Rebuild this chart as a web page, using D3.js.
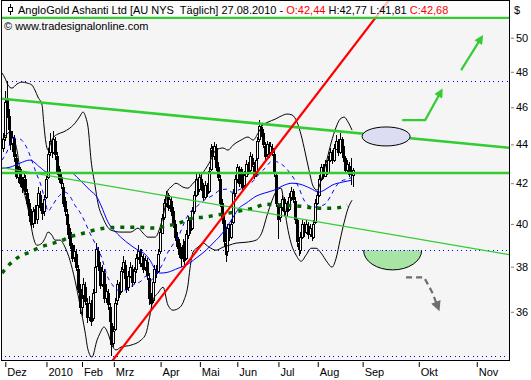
<!DOCTYPE html>
<html>
<head>
<meta charset="utf-8">
<script src="https://cdn.jsdelivr.net/npm/d3@7"></script>
<style>
  body { margin: 0; background: #fff; }
  svg { display: block; }
  text { font-family: "Liberation Sans", Arial, sans-serif; font-size: 11px; }
</style>
</head>
<body>
<svg id="chart" width="531" height="380"></svg>
<script>
// daily candles, 30.11.2009 .. 27.08.2010 (index = trading day)
const open = [43.8,44.4,46.4,45.5,44.7,44.1,44.3,43.3,42.3,42.7,
  42.1,41.7,42.2,41.5,41.0,40.5,40.0,40.7,40.2,40.9,
  41.4,40.8,40.6,41.3,42.3,43.6,44.1,43.6,44.2,43.4,
  42.7,42.3,41.8,41.1,40.5,40.0,39.6,39.0,38.4,38.6,
  37.9,37.0,36.2,36.7,37.1,36.4,35.8,36.3,35.7,36.9,
  38.0,38.7,38.0,37.2,37.7,36.6,36.8,36.2,35.5,34.7,
  35.3,36.5,37.1,36.9,37.9,38.1,37.4,37.1,37.6,37.9,
  37.3,37.9,38.4,38.6,38.2,38.4,38.0,38.2,37.5,36.6,
  36.5,37.3,37.9,37.8,38.7,39.6,40.3,41.0,41.3,40.9,
  41.1,40.6,40.0,39.4,39.1,38.6,38.4,39.0,38.4,39.5,
  40.1,39.8,40.6,41.4,42.1,41.7,42.2,41.8,41.3,41.8,
  41.6,42.7,43.7,43.4,43.8,42.8,42.2,41.0,40.2,39.1,
  38.7,39.8,39.4,40.1,41.5,42.2,42.7,42.1,42.5,41.9,
  42.4,42.9,42.7,43.3,42.9,42.5,43.3,44.3,44.9,44.6,
  43.9,43.5,43.9,43.6,43.8,43.5,42.4,40.9,40.3,40.8,
  41.1,40.6,41.0,40.7,41.3,41.6,41.1,40.2,39.1,38.8,
  39.4,40.0,39.6,39.9,39.5,39.8,39.4,40.1,41.0,41.4,
  42.2,42.8,42.4,43.0,42.6,43.2,43.6,43.2,43.8,44.2,
  43.6,44.3,43.9,43.3,42.7,42.9,42.5,42.44];
const high = [44.6,46.9,47.47,45.9,45.0,44.7,44.5,43.5,42.9,42.8,
  42.3,42.6,42.4,41.7,41.2,40.7,40.8,40.9,41.1,41.8,
  41.6,41.0,41.4,42.4,43.8,44.6,44.3,44.7,44.4,43.6,
  42.9,42.5,42.0,41.3,40.7,40.2,39.8,39.1,39.0,38.8,
  38.1,37.2,36.9,37.5,37.3,36.6,36.7,36.5,37.0,38.3,
  39.1,38.9,38.2,38.1,37.9,37.2,37.0,36.4,35.7,35.4,
  36.6,37.4,37.3,38.0,38.5,38.3,37.6,37.8,38.2,38.1,
  38.0,38.6,39.0,38.8,38.8,38.6,38.5,38.4,37.7,36.8,
  37.5,38.1,38.1,38.8,39.8,40.5,41.2,41.6,41.5,41.4,
  41.3,40.8,40.2,39.6,39.3,38.9,39.3,39.2,39.7,40.4,
  40.3,40.8,41.6,42.5,42.3,42.5,42.4,42.0,42.1,42.0,
  42.8,44.0,43.9,44.1,44.0,43.1,42.4,41.2,40.4,39.4,
  40.0,40.0,40.2,41.7,42.4,43.0,42.9,42.8,42.7,42.6,
  43.2,43.1,43.6,43.5,43.1,43.4,44.4,45.3,45.1,44.8,
  44.1,44.2,44.1,44.1,44.0,43.7,42.5,41.0,41.0,41.4,
  41.3,41.2,41.1,41.5,41.8,41.7,41.3,40.3,39.3,39.6,
  40.2,40.1,40.2,40.1,40.0,39.9,40.2,41.2,41.6,42.4,
  43.0,43.0,43.2,43.1,43.4,43.8,43.7,44.0,44.5,44.3,
  44.6,44.4,44.0,43.4,43.2,43.1,43.3,42.77];
const low = [43.6,44.2,45.4,44.5,43.7,43.6,43.1,42.2,42.0,41.8,
  41.5,41.6,41.4,40.8,40.1,39.8,39.8,40.0,40.0,40.7,
  40.6,40.2,40.4,41.2,42.2,43.4,43.3,43.5,43.2,42.4,
  42.0,41.7,40.8,40.4,39.8,39.3,38.8,38.2,38.2,37.8,
  36.8,35.9,35.8,36.5,36.3,35.5,35.6,35.4,35.6,36.8,
  37.8,37.8,37.0,37.1,36.4,36.4,36.1,35.4,34.13,34.5,
  35.2,36.3,36.6,36.8,37.7,37.3,36.8,36.9,37.5,37.1,
  37.2,37.7,38.3,38.0,38.0,37.7,37.8,37.4,36.3,36.1,
  36.4,37.2,37.5,37.7,38.6,39.5,40.2,40.8,40.6,40.7,
  40.4,39.8,39.2,38.8,38.4,38.0,38.2,38.1,38.3,39.3,
  39.5,39.7,40.5,41.3,41.4,41.6,41.6,41.1,41.2,41.3,
  41.5,42.6,43.1,43.2,42.6,42.1,40.8,40.0,38.9,38.2,
  38.5,39.2,39.3,40.0,41.3,42.0,41.8,41.9,41.6,41.7,
  42.3,42.4,42.5,42.8,42.2,42.3,43.2,44.1,44.4,43.8,
  43.2,43.3,43.3,43.4,43.4,42.3,40.8,39.3,40.1,40.6,
  40.4,40.5,40.4,40.6,41.1,41.0,40.0,38.9,38.5,38.6,
  39.3,39.4,39.5,39.3,39.4,39.2,39.3,40.0,40.9,41.3,
  42.1,42.2,42.3,42.4,42.5,43.1,43.0,43.1,43.7,43.4,
  43.5,43.7,43.1,42.5,42.5,42.3,41.9,41.81];
const close = [44.3,46.3,45.6,44.8,44.0,44.4,43.4,42.4,42.6,42.0,
  41.8,42.3,41.6,41.0,40.4,40.0,40.6,40.2,40.9,41.5,
  40.8,40.5,41.2,42.2,43.5,44.2,43.6,44.3,43.5,42.6,
  42.2,42.0,41.0,40.6,40.0,39.5,39.0,38.4,38.7,38.0,
  37.0,36.2,36.6,37.2,36.5,35.8,36.4,35.6,36.8,38.0,
  38.8,38.0,37.2,37.8,36.6,36.9,36.3,35.6,34.6,35.2,
  36.4,37.2,36.8,37.8,38.2,37.5,37.0,37.6,38.0,37.3,
  37.8,38.4,38.7,38.2,38.5,37.9,38.3,37.6,36.6,36.4,
  37.3,37.9,37.7,38.6,39.6,40.3,41.0,41.4,40.8,41.2,
  40.6,40.0,39.4,39.0,38.6,38.4,39.0,38.3,39.5,40.2,
  39.7,40.6,41.4,42.2,41.6,42.3,41.8,41.3,41.9,41.5,
  42.6,43.8,43.4,43.9,42.8,42.3,41.0,40.2,39.2,38.6,
  39.8,39.4,40.0,41.5,42.2,42.8,42.0,42.6,41.8,42.4,
  43.0,42.6,43.4,43.0,42.4,43.2,44.2,45.0,44.6,44.0,
  43.4,44.0,43.5,43.9,43.6,42.6,41.0,40.2,40.8,41.2,
  40.6,41.0,40.6,41.3,41.6,41.2,40.2,39.2,38.8,39.4,
  40.0,39.6,40.0,39.5,39.8,39.4,40.0,41.0,41.4,42.2,
  42.8,42.4,43.0,42.6,43.2,43.6,43.2,43.8,44.2,43.6,
  44.3,43.9,43.3,42.7,43.0,42.5,42.6,42.68];

// x axis: month starts as day index (future part runs in calendar days)
const monthTicks = [1, 23, 42, 59, 84, 105, 125, 147, 168, 192, 222, 253];
const monthLabels = ["Dez", "2010", "Feb", "Mrz", "Apr", "Mai", "Jun", "Jul", "Aug", "Sep", "Okt", "Nov"];
const priceTicks = [36, 38, 40, 42, 44, 46, 48, 50];

// indicators: [day index, price]
const upperBand = [[-0.5,47.93],[1.1,47.64],[2.7,47.24],[4.8,47.07],[7.5,47.30],[10.2,47.41],[12.8,47.36],
  [15.5,47.24],[17.1,46.96],[18.7,46.57],[20.9,46.12],[21.9,45.03],[23.0,44.07],[24.1,43.70],[25.1,43.96],
  [26.7,44.33],[29.4,44.55],[32.1,44.65],[35.8,44.87],[39.0,45.19],[41.2,45.52],[42.8,45.74],[44.4,45.41],
  [45.5,44.92],[47.1,43.18],[49.2,41.90],[50.8,41.00],[53.5,40.28],[57.8,39.70],[63.1,39.61],[68.4,39.61],
  [72.2,39.80],[74.9,39.56],[77.5,39.37],[81.3,39.37],[84.0,39.84],[86.6,40.81],[88.2,41.65],[89.8,41.80],
  [92.5,42.00],[96.3,41.80],[98.9,41.75],[101.6,42.00],[105.9,42.40],[110.2,43.02],[113.9,43.70],[117.6,43.81],
  [120.3,43.70],[123.0,43.96],[127.3,44.23],[131.0,44.39],[133.7,44.23],[136.4,44.60],[138.5,44.98],[141.7,45.19],
  [145.5,45.35],[148.7,45.52],[151.9,45.63],[154.5,45.58],[157.2,45.19],[159.4,44.49],[161.5,43.60],[163.6,42.66],
  [165.8,41.85],[167.9,41.65],[170.1,42.15],[172.7,43.02],[175.4,44.07],[178.1,44.92],[180.2,45.35],[182.4,45.46],
  [184.5,45.19],[186.6,44.76]];
const lowerBand = [[-0.5,44.23],[1.6,44.49],[3.7,44.65],[5.3,44.39],[7.5,43.70],[9.1,42.66],[10.7,41.80],
  [12.8,41.00],[14.4,40.28],[16.0,39.46],[18.2,38.99],[20.9,39.09],[22.5,39.32],[24.1,39.61],[26.2,39.46],
  [27.8,39.23],[30.5,39.23],[33.2,38.90],[35.8,38.30],[38.5,37.39],[41.2,36.29],[43.9,35.14],[45.5,34.39],
  [47.6,34.10],[50.3,34.80],[51.9,35.09],[54.0,35.35],[56.1,35.09],[58.3,34.59],[60.4,34.39],[63.1,34.51],
  [68.4,34.59],[73.8,34.80],[76.5,35.09],[78.6,35.86],[80.2,36.51],[82.9,36.82],[85.6,37.08],[88.2,36.29],
  [90.9,36.07],[94.7,36.20],[96.8,36.51],[98.9,37.17],[100.0,37.93],[101.6,38.67],[104.3,38.90],[107.0,39.09],
  [110.2,38.90],[113.9,38.76],[117.6,38.90],[120.9,38.99],[124.6,39.09],[129.9,39.13],[135.3,39.23],[138.5,39.61],
  [141.2,40.42],[143.9,41.15],[146.5,41.65],[148.7,41.75],[150.3,40.90],[151.9,39.94],[154.0,39.09],[156.7,38.53],
  [159.4,38.25],[162.0,38.53],[164.7,38.85],[167.4,38.85],[170.1,38.62],[173.3,38.21],[175.9,37.98],[178.1,38.39],
  [180.2,39.23],[182.4,40.08],[184.5,40.76],[186.6,41.15]];
const avgSlow = [[-0.5,42.76],[3.7,42.81],[9.1,43.02],[14.4,43.18],[19.8,42.81],[23.5,42.56],[30.5,42.51],
  [36.9,42.51],[39.6,42.30],[42.8,42.00],[46.5,41.65],[50.3,41.30],[52.4,40.90],[56.1,40.10],[61.5,39.50],
  [66.8,39.09],[72.2,38.76],[75.9,38.58],[78.6,38.30],[81.3,37.89],[84.0,37.71],[88.2,37.75],[93.6,37.93],
  [97.9,38.07],[103.2,38.39],[108.6,38.76],[112.3,39.09],[115.5,39.37],[119.3,39.80],[123.0,40.32],[126.2,40.76],
  [129.9,41.00],[135.3,41.35],[139.6,41.50],[144.9,41.65],[150.3,41.90],[154.5,42.00],[158.8,41.95],[164.2,41.75],
  [169.0,41.55],[171.7,41.65],[175.9,41.90],[181.3,42.05],[186.6,42.15]];
const avgFast = [[-0.5,43.18],[2.1,43.60],[5.3,44.33],[9.1,44.28],[12.3,43.91],[15.0,43.28],[17.6,42.56],
  [20.3,41.90],[22.5,41.15],[24.1,40.61],[26.2,40.86],[29.4,41.30],[33.2,41.55],[35.8,41.35],[38.5,40.90],
  [41.2,40.56],[43.9,40.08],[46.5,39.56],[49.2,39.09],[52.9,38.39],[55.6,37.61],[58.3,37.21],[61.5,36.95],
  [65.2,36.95],[69.5,37.17],[73.8,37.35],[76.5,37.57],[79.1,37.39],[81.8,37.66],[85.0,38.07],[88.2,38.67],
  [91.4,39.09],[94.1,39.46],[96.8,40.03],[99.5,40.51],[103.2,40.81],[107.5,41.15],[112.3,41.40],[116.0,41.65],
  [119.3,41.70],[122.5,41.55],[125.7,41.65],[129.9,41.85],[133.7,42.10],[136.9,42.46],[140.1,42.76],[143.9,43.13],
  [147.1,43.07],[150.3,42.86],[153.5,42.51],[156.1,42.15],[158.3,41.75],[160.4,41.25],[163.1,40.90],[166.3,40.81],
  [169.5,40.86],[172.7,41.00],[175.4,41.40],[178.1,41.85],[180.7,42.10],[184.0,42.20],[186.6,42.30]];
const avgLong = [[-0.5,37.71],[3.7,38.12],[9.1,38.48],[14.4,38.67],[19.8,38.90],[25.1,39.04],[30.5,39.18],
  [36.9,39.42],[41.2,39.51],[46.5,39.65],[54.5,39.80],[62.6,39.84],[73.3,39.84],[81.3,39.80],[86.6,39.89],
  [92.5,39.99],[101.6,40.28],[107.0,40.32],[113.9,40.42],[123.0,40.56],[128.3,40.66],[133.7,40.76],[140.6,40.95],
  [150.3,40.90],[158.8,40.86],[167.9,40.76],[176.5,40.76],[184.0,40.90]];

// drawn lines: two points each [day index, price]
const greenResistance = [[-0.5, 46.47], [270.5, 43.82]];
const greenSupport = [[-0.5, 42.79], [270.5, 38.55]];
const redTrend = [[58.8, 33.98], [181.8, 48.68]];
const greenLevel = 42.52;
const topLevel = 51.2;
const dottedLevels = [[4.8, 47.47], [-0.5, 38.75], [1, 34.13]];

const svg = d3.select("#chart");
const plot = { left: 2, top: 1, right: 509, bottom: 360 };

const x = d3.scaleLinear().domain([-0.5, 270.5]).range([plot.left, plot.right]);
const y = d3.scaleLog().domain([33.98, 52.25]).range([plot.bottom, plot.top]);

svg.append("rect").attr("width", 531).attr("height", 380).attr("fill", "#fff");
svg.append("rect")
  .attr("x", plot.left).attr("y", plot.top)
  .attr("width", plot.right - plot.left).attr("height", plot.bottom - plot.top)
  .attr("fill", "#f5f5f5");

const defs = svg.append("defs");
defs.append("clipPath").attr("id", "clip").append("rect")
  .attr("x", plot.left).attr("y", plot.top)
  .attr("width", plot.right - plot.left).attr("height", plot.bottom - plot.top);

// arrow heads
function marker(id, color, w, h) {
  defs.append("marker").attr("id", id)
    .attr("viewBox", "0 0 10 10").attr("refX", 2).attr("refY", 5)
    .attr("markerUnits", "userSpaceOnUse")
    .attr("markerWidth", w).attr("markerHeight", h)
    .attr("orient", "auto")
    .append("path").attr("d", "M0,0 L10,5 L0,10 Z").attr("fill", color);
}
marker("headGreen", "#33cc33", 10, 9);
marker("headGray", "#6e6e6e", 11, 10);

const g = svg.append("g").attr("clip-path", "url(#clip)");

// blue dotted levels
function dotted(x1, x2, v) {
  g.append("line")
    .attr("x1", x1).attr("x2", x2)
    .attr("y1", Math.round(y(v)) + 0.5).attr("y2", Math.round(y(v)) + 0.5)
    .attr("stroke", "#0000ff").attr("stroke-width", 1)
    .attr("stroke-dasharray", "1,3.5").attr("shape-rendering", "crispEdges");
}
dottedLevels.forEach(d => dotted(x(d[0]), plot.right, d[1]));

// candles
const bars = d3.range(close.length).map(i => ({ i: i, o: open[i], h: high[i], l: low[i], c: close[i] }));
const candle = g.append("g").attr("shape-rendering", "crispEdges")
  .selectAll("g").data(bars).enter().append("g");
candle.append("line")
  .attr("x1", d => Math.round(x(d.i)) + 0.5).attr("x2", d => Math.round(x(d.i)) + 0.5)
  .attr("y1", d => Math.round(y(d.h))).attr("y2", d => Math.round(y(d.l)))
  .attr("stroke", "#000").attr("stroke-width", 1);
candle.append("rect")
  .attr("x", d => Math.round(x(d.i)) - 0.5)
  .attr("width", 2)
  .attr("y", d => Math.round(y(Math.max(d.o, d.c))) + 0.5)
  .attr("height", d => Math.max(1, Math.round(Math.abs(y(d.o) - y(d.c)))))
  .attr("fill", d => d.c >= d.o ? "#fff" : "#000")
  .attr("stroke", "#000").attr("stroke-width", 1);

// indicators
const lineGen = d3.line().x(d => x(d[0])).y(d => y(d[1])).curve(d3.curveMonotoneX);
g.append("path").attr("d", lineGen(upperBand)).attr("fill", "none").attr("stroke", "#000").attr("stroke-width", 1);
g.append("path").attr("d", lineGen(lowerBand)).attr("fill", "none").attr("stroke", "#000").attr("stroke-width", 1);
g.append("path").attr("d", lineGen(avgSlow)).attr("fill", "none").attr("stroke", "#0000ff").attr("stroke-width", 1);
g.append("path").attr("d", lineGen(avgFast)).attr("fill", "none").attr("stroke", "#0000ff").attr("stroke-width", 1)
  .attr("stroke-dasharray", "4,4");
g.append("path").attr("d", lineGen(avgLong)).attr("fill", "none").attr("stroke", "#006400").attr("stroke-width", 3.5)
  .attr("stroke-dasharray", "4,6");

// trend lines, extended to the plot edges
function extended(pts) {
  const x1 = x(pts[0][0]), y1 = y(pts[0][1]), x2 = x(pts[1][0]), y2 = y(pts[1][1]);
  const s = (y2 - y1) / (x2 - x1);
  return [[plot.left, y1 + s * (plot.left - x1)], [plot.right, y1 + s * (plot.right - x1)]];
}
function drawTrend(pts, color, w) {
  const e = extended(pts);
  g.append("line").attr("x1", e[0][0]).attr("y1", e[0][1]).attr("x2", e[1][0]).attr("y2", e[1][1])
    .attr("stroke", color).attr("stroke-width", w);
}
drawTrend(greenSupport, "#33cc33", 1.2);
drawTrend(greenResistance, "#33cc33", 2.6);
g.append("line").attr("x1", plot.left).attr("x2", plot.right)
  .attr("y1", y(greenLevel)).attr("y2", y(greenLevel))
  .attr("stroke", "#33cc33").attr("stroke-width", 2.6);
drawTrend(redTrend, "#ff0000", 2.2);

// annotations
const ell = { i: 204.8, v: 44.42 };
g.append("ellipse").attr("cx", x(ell.i)).attr("cy", y(ell.v)).attr("rx", 24).attr("ry", 9.5)
  .attr("fill", "#dcdcf2").attr("stroke", "#000").attr("stroke-width", 1);
const bowl = { i: 208.3, v: 38.75 };
const bx = x(bowl.i), by = y(bowl.v);
g.append("path")
  .attr("d", `M${bx - 29},${by} A29,19.5 0 0 0 ${bx + 29},${by} Z`)
  .attr("fill", "#a8e4a4").attr("stroke", "none");
g.append("path")
  .attr("d", `M${bx - 29},${by} A29,19.5 0 0 0 ${bx + 29},${by}`)
  .attr("fill", "none").attr("stroke", "#000").attr("stroke-width", 1);
dotted(bx - 29, bx + 29, bowl.v);

const arrowUp1 = [[213.4, 45.30], [225.7, 45.30], [233.2, 46.70]];
const arrowUp2 = [[244.9, 48.10], [254.6, 49.80]];
const arrowDown = [[215.5, 37.52], [225.1, 37.52], [229.4, 36.86], [231.8, 36.35]];
const arrowLine = d3.line().x(d => x(d[0])).y(d => y(d[1]));
[arrowUp1, arrowUp2].forEach(a => {
  g.append("path").attr("d", arrowLine(a)).attr("fill", "none")
    .attr("stroke", "#33cc33").attr("stroke-width", 2.2)
    .attr("marker-end", "url(#headGreen)");
});
g.append("path").attr("d", arrowLine(arrowDown)).attr("fill", "none")
  .attr("stroke", "#6e6e6e").attr("stroke-width", 2.2).attr("stroke-dasharray", "6,4")
  .attr("marker-end", "url(#headGray)");

// header box
svg.append("rect").attr("x", plot.left).attr("y", plot.top).attr("width", plot.right - plot.left).attr("height", 17)
  .attr("fill", "#fff").attr("fill-opacity", 0.72);
svg.append("line").attr("x1", plot.left).attr("x2", plot.right)
  .attr("y1", y(topLevel)).attr("y2", y(topLevel))
  .attr("stroke", "#33cc33").attr("stroke-width", 2.2);

// frame
svg.append("rect")
  .attr("x", plot.left - 0.5).attr("y", plot.top - 0.5)
  .attr("width", plot.right - plot.left + 1).attr("height", plot.bottom - plot.top + 1)
  .attr("fill", "none").attr("stroke", "#000").attr("stroke-width", 1);

// header icon + text
const icon = svg.append("g");
icon.append("line").attr("x1", 10.5).attr("x2", 10.5).attr("y1", 4).attr("y2", 15).attr("stroke", "#000");
icon.append("rect").attr("x", 8.5).attr("y", 7.5).attr("width", 4).attr("height", 4)
  .attr("fill", "#fff").attr("stroke", "#000");

const title = svg.append("text").attr("x", 18).attr("y", 13.5).attr("fill", "#000")
  .style("white-space", "pre");
title.append("tspan").text("AngloGold Ashanti Ltd [AU NYS  Täglich] 27.08.2010 - ");
title.append("tspan").attr("fill", "#ff0000").text("O:42,44");
title.append("tspan").text(" H:42,77 L:41,81 ");
title.append("tspan").attr("fill", "#ff0000").text("C:42,68");

svg.append("text").attr("x", 4).attr("y", 30).attr("fill", "#000").text("© www.tradesignalonline.com");
svg.append("text").attr("x", 514).attr("y", 14).attr("fill", "#000").text("$");

// axes
const yAxis = svg.append("g").attr("transform", `translate(${plot.right + 2},0)`)
  .call(d3.axisRight(y).tickValues(priceTicks).tickSize(3).tickPadding(2).tickFormat(d3.format("d")));
yAxis.select(".domain").remove();
yAxis.selectAll(".tick line").attr("stroke", "#808080");
yAxis.selectAll("text").attr("fill", "#000")
  .style("font-family", "'Liberation Sans', Arial, sans-serif").style("font-size", "11px");

const xAxis = svg.append("g").attr("transform", `translate(0,${plot.bottom + 2})`)
  .call(d3.axisBottom(x).tickValues(monthTicks).tickSize(5).tickPadding(1)
    .tickFormat((d, k) => monthLabels[k]));
xAxis.select(".domain").remove();
xAxis.selectAll(".tick line").attr("stroke", "#000").attr("transform", "translate(0.5,0)");
xAxis.selectAll("text").attr("fill", "#000").attr("text-anchor", "start").attr("x", 2)
  .style("font-family", "'Liberation Sans', Arial, sans-serif").style("font-size", "11px");
</script>
</body>
</html>
